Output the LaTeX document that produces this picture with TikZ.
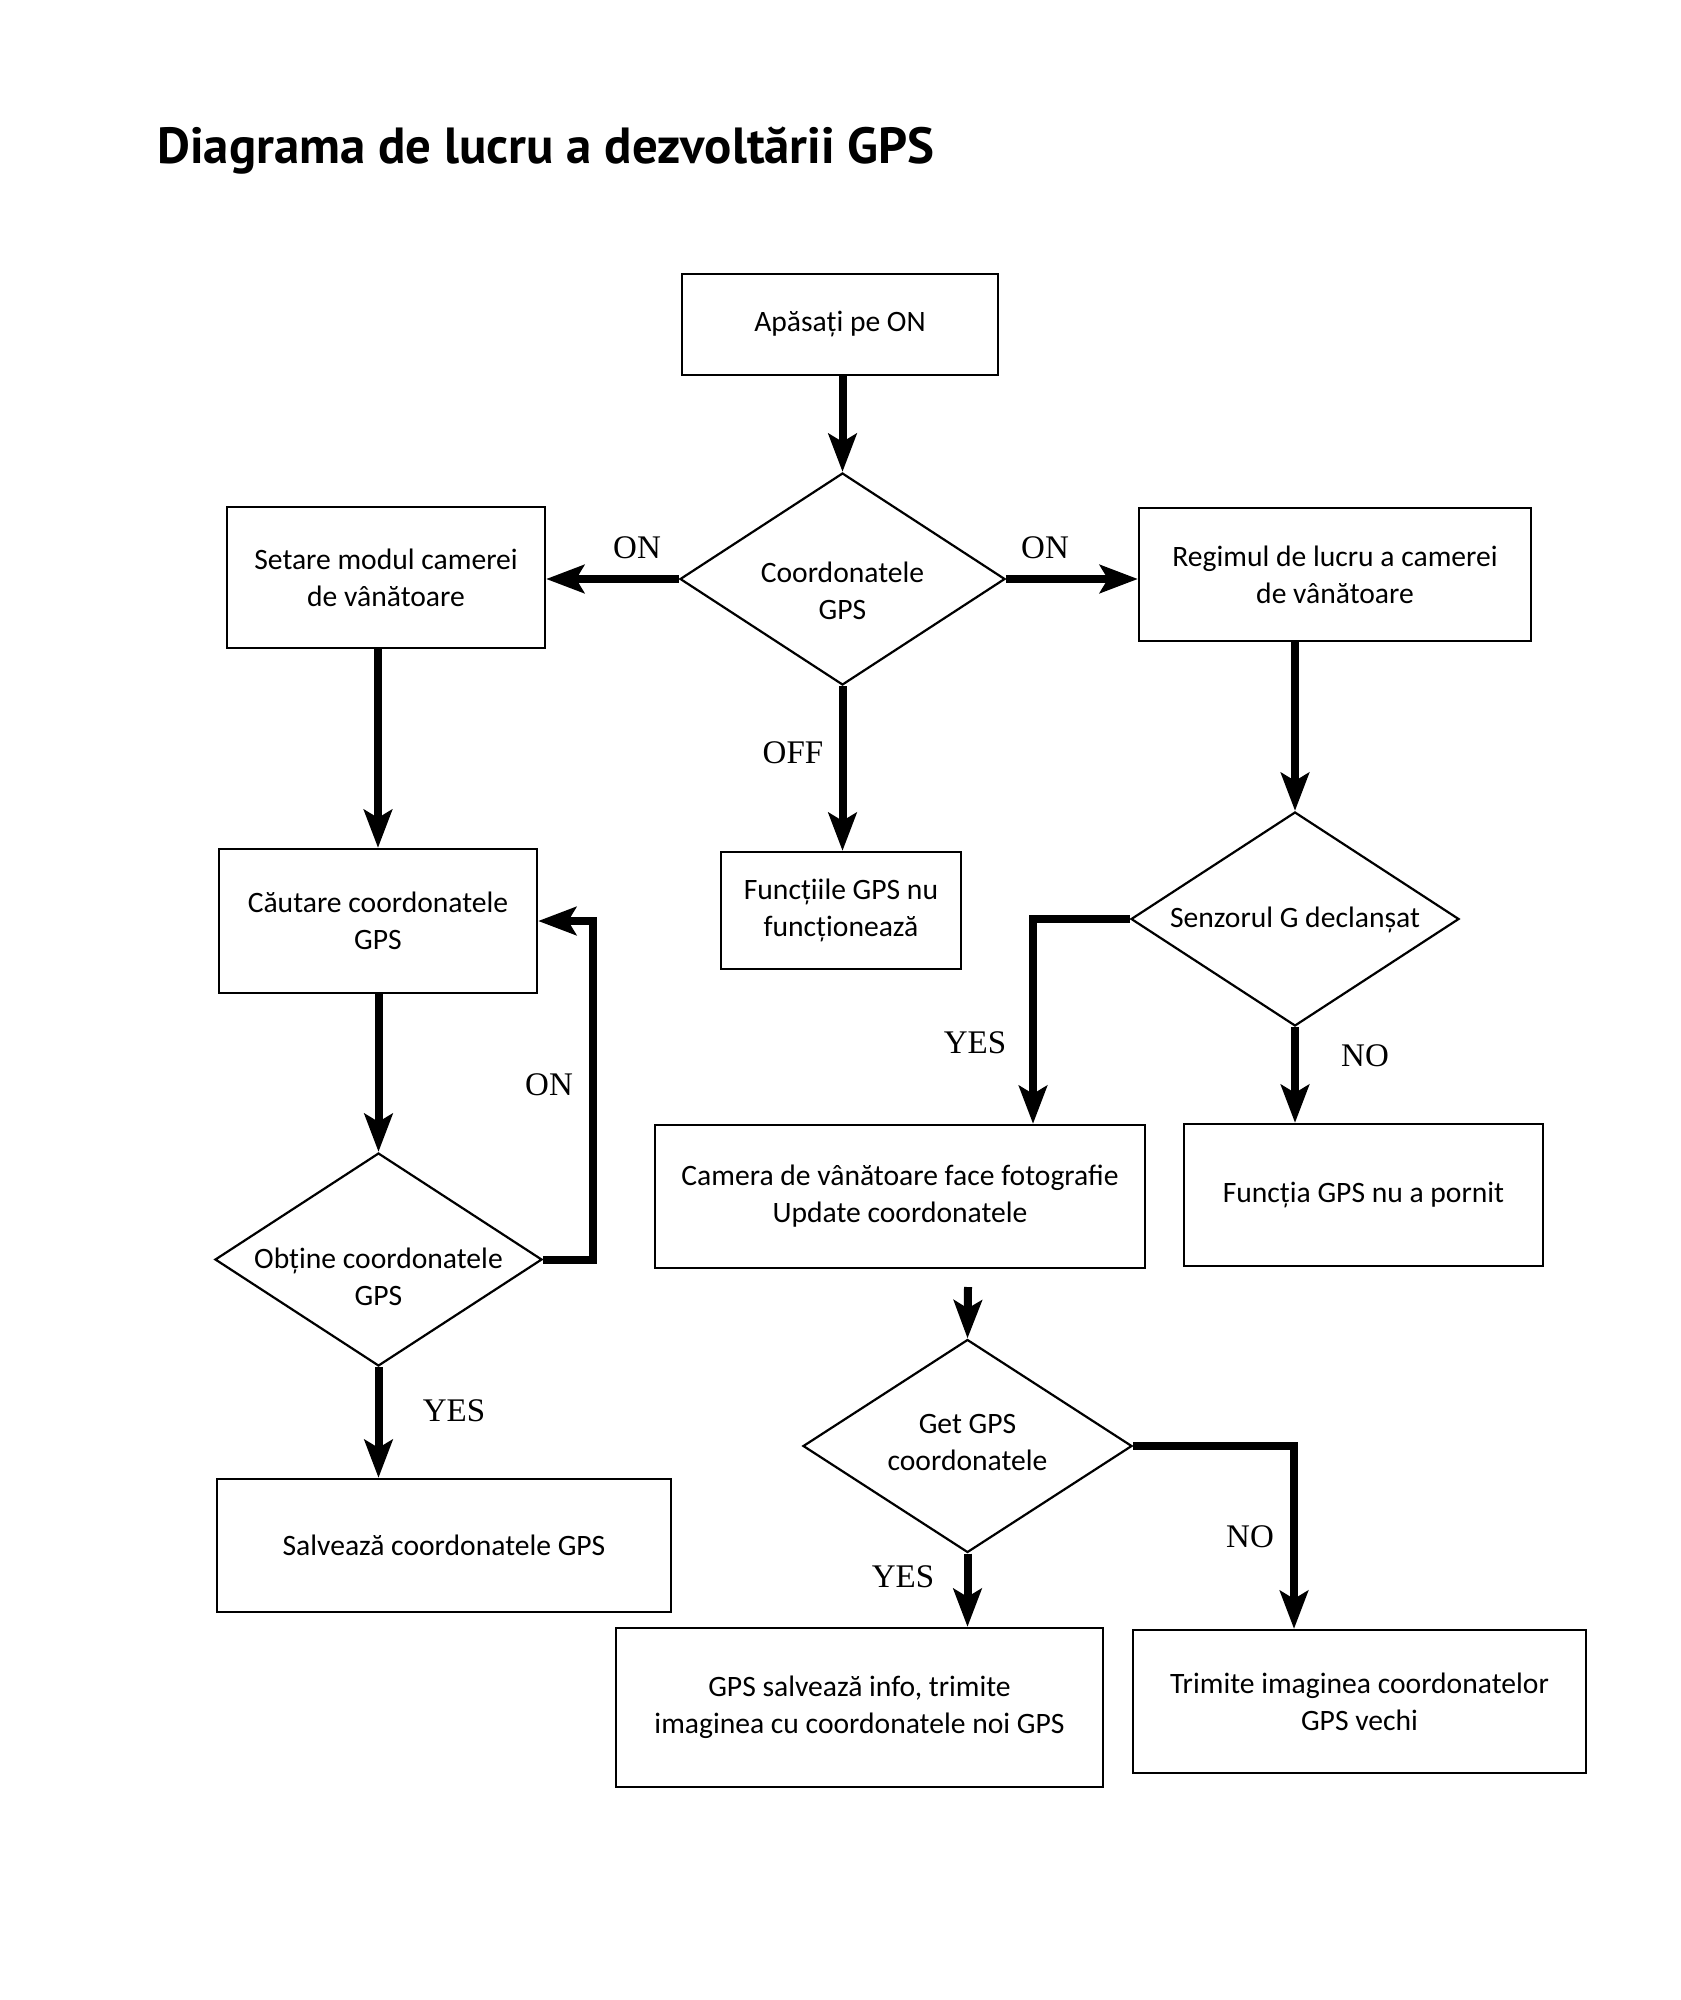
\documentclass[tikz,border=0pt]{standalone}
\usepackage{fontspec}
\setmainfont{Carlito}
\newfontfamily\labfont{Liberation Serif}
\newfontfamily\ttlfont{PT Sans}
\usetikzlibrary{shapes.geometric,arrows.meta,calc}
\begin{document}
\begin{tikzpicture}[x=0.5pt,y=-0.5pt,
 box/.style={draw,line width=1.1pt,rectangle,align=center,inner sep=0pt,font=\fontsize{14.8}{18.5}\selectfont},
 dia/.style={draw,line width=1.1pt,shape=diamond,inner sep=0pt},
 txt/.style={align=center,inner sep=0pt,font=\fontsize{14.8}{18.5}\selectfont},
 lab/.style={inner sep=0pt,font=\labfont\fontsize{16.5}{20}\selectfont},
 arr/.style={line width=4pt,-{Stealth[length=19pt,width=14pt,inset=4pt]}}]
\path[fill=white,use as bounding box] (0,0) rectangle (1680,2000);

\node[anchor=base west,inner sep=0pt,font=\ttlfont\bfseries\fontsize{25.4}{29}\selectfont] (title) at (157,164) {Diagrama de lucru a dezvoltării GPS};

\node[box,minimum width=158pt,minimum height=50.5pt] (A) at (840,324.5) {Apăsați pe ON};
\node[dia,minimum width=162.5pt,minimum height=106pt] (D1) at (842.5,579) {};
\node[txt] (D1t) at (842.5,591) {Coordonatele\\GPS};
\node[box,minimum width=159pt,minimum height=70.5pt] (L1) at (386,577.5) {Setare modul camerei\\de vânătoare};
\node[box,minimum width=196pt,minimum height=66.5pt] (R1) at (1335,574.5) {Regimul de lucru a camerei\\de vânătoare};
\node[box,minimum width=120pt,minimum height=58.5pt] (C1) at (841,910.5) {Funcțiile GPS nu\\funcționează};
\node[box,minimum width=159pt,minimum height=72pt] (L2) at (378,921) {Căutare coordonatele\\GPS};
\node[dia,minimum width=164pt,minimum height=107pt] (R2) at (1295,919) {};
\node[txt] (R2t) at (1295,920) {Senzorul G declanșat};
\node[dia,minimum width=163.5pt,minimum height=106.5pt] (L3) at (378.5,1259.5) {};
\node[txt] (L3t) at (378.5,1277) {Obține coordonatele\\GPS};
\node[box,minimum width=245pt,minimum height=71.5pt] (Cam) at (900,1196.5) {Camera de vânătoare face fotografie\\Update coordonatele};
\node[box,minimum width=179.5pt,minimum height=71pt] (Fun) at (1363.5,1195) {Funcția GPS nu a pornit};
\node[dia,minimum width=164.5pt,minimum height=106.5pt] (D4) at (967.5,1446) {};
\node[txt] (D4t) at (967.5,1442) {Get GPS\\coordonatele};
\node[box,minimum width=227pt,minimum height=66.5pt] (Sal) at (444,1545.5) {Salvează coordonatele GPS};
\node[box,minimum width=243.5pt,minimum height=79.5pt] (GPS) at (859.5,1707.5) {GPS salvează info, trimite\\imaginea cu coordonatele noi GPS};
\node[box,minimum width=226.5pt,minimum height=71.5pt] (Trim) at (1359.5,1701.5) {Trimite imaginea coordonatelor\\GPS vechi};

\node[lab] (onL) at (637,548) {ON};
\node[lab] (onR) at (1045,548) {ON};
\node[lab] (off) at (793,753) {OFF};
\node[lab] (onLoop) at (549,1085) {ON};
\node[lab] (yesR) at (975,1043) {YES};
\node[lab] (noR) at (1365,1056) {NO};
\node[lab] (yesL) at (454,1411) {YES};
\node[lab] (yesD) at (903,1577) {YES};
\node[lab] (noD) at (1250,1537) {NO};

\draw[arr] (A.south -| D1.north) -- (D1.north);
\draw[arr] (D1.west) -- (D1.west -| L1.east);
\draw[arr] (D1.east) -- (D1.east -| R1.west);
\draw[arr] (D1.south) -- (D1.south |- C1.north);
\draw[arr] (L2.north |- L1.south) -- (L2.north);
\draw[arr] (L3.north |- L2.south) -- (L3.north);
\coordinate (lp) at (593,1259.5);
\draw[arr] (L3.east) -- (lp) |- (L2.east);
\draw[arr] (L3.south) -- (L3.south |- Sal.north);
\draw[arr] (R2.north |- R1.south) -- (R2.north);
\coordinate (camin) at (1033,919);
\draw[arr] (R2.west) -- (camin) -- (camin |- Cam.north);
\draw[arr] (R2.south) -- (R2.south |- Fun.north);
\coordinate (cd) at (968,1287);
\draw[arr] (cd) -- (D4.north);
\draw[arr] (D4.south) -- (D4.south |- GPS.north);
\coordinate (nd) at (1294,1446);
\draw[arr] (D4.east) -- (nd) -- (nd |- Trim.north);
\end{tikzpicture}
\end{document}
